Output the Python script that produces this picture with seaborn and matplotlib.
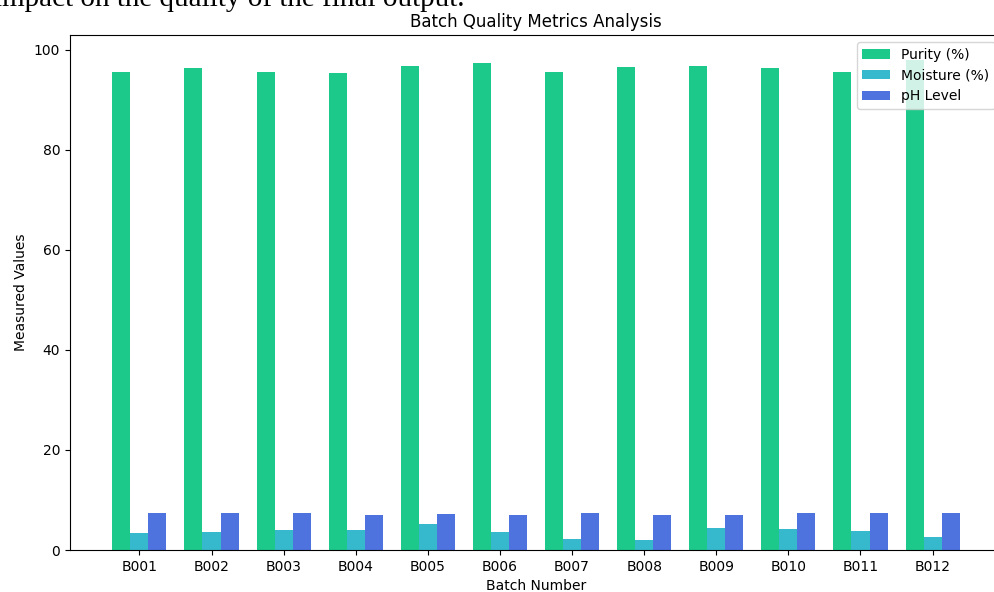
import pandas as pd
import matplotlib
matplotlib.use("Agg")
import matplotlib.pyplot as plt
import seaborn as sns

# Batch data
batches = ["B001", "B002", "B003", "B004", "B005", "B006",
           "B007", "B008", "B009", "B010", "B011", "B012"]
purity = [95.6, 96.4, 95.6, 95.4, 96.8, 97.4, 95.6, 96.6, 96.8, 96.4, 95.6, 98.0]
moisture = [3.3, 3.5, 3.9, 3.9, 5.1, 3.5, 2.2, 2.0, 4.3, 4.1, 3.7, 2.6]
ph_level = [7.4, 7.4, 7.4, 7.0, 7.2, 7.0, 7.4, 7.0, 7.0, 7.4, 7.4, 7.4]

metric_names = ["Purity (%)", "Moisture (%)", "pH Level"]
palette = ["#1cc88a", "#36b9cc", "#4e73df"]

df = pd.DataFrame({"Batch": batches, metric_names[0]: purity,
                   metric_names[1]: moisture, metric_names[2]: ph_level})
long_df = df.melt(id_vars="Batch", var_name="Metric", value_name="Value")

fig = plt.figure(figsize=(9.95, 5.92), dpi=100)
ax = fig.add_axes([70 / 995, 42 / 592, 932 / 995, 515 / 592])

sns.barplot(data=long_df, x="Batch", y="Value", hue="Metric",
            hue_order=metric_names, palette=palette, width=0.75,
            saturation=1, errorbar=None, linewidth=0, ax=ax)

ax.set_xlim(-0.9625, len(batches) - 1 + 0.9625)
ax.set_title("Batch Quality Metrics Analysis")
ax.set_xlabel("Batch Number")
ax.set_ylabel("Measured Values")
ax.legend(loc="upper right")

# leftover sentence from the page above the chart
fig.text(-0.006, 1 - 6 / 592, "impact on the quality of the final output.",
         family="Liberation Serif", fontsize=21, va="baseline", ha="left")

fig.savefig("out.png", dpi=100)
